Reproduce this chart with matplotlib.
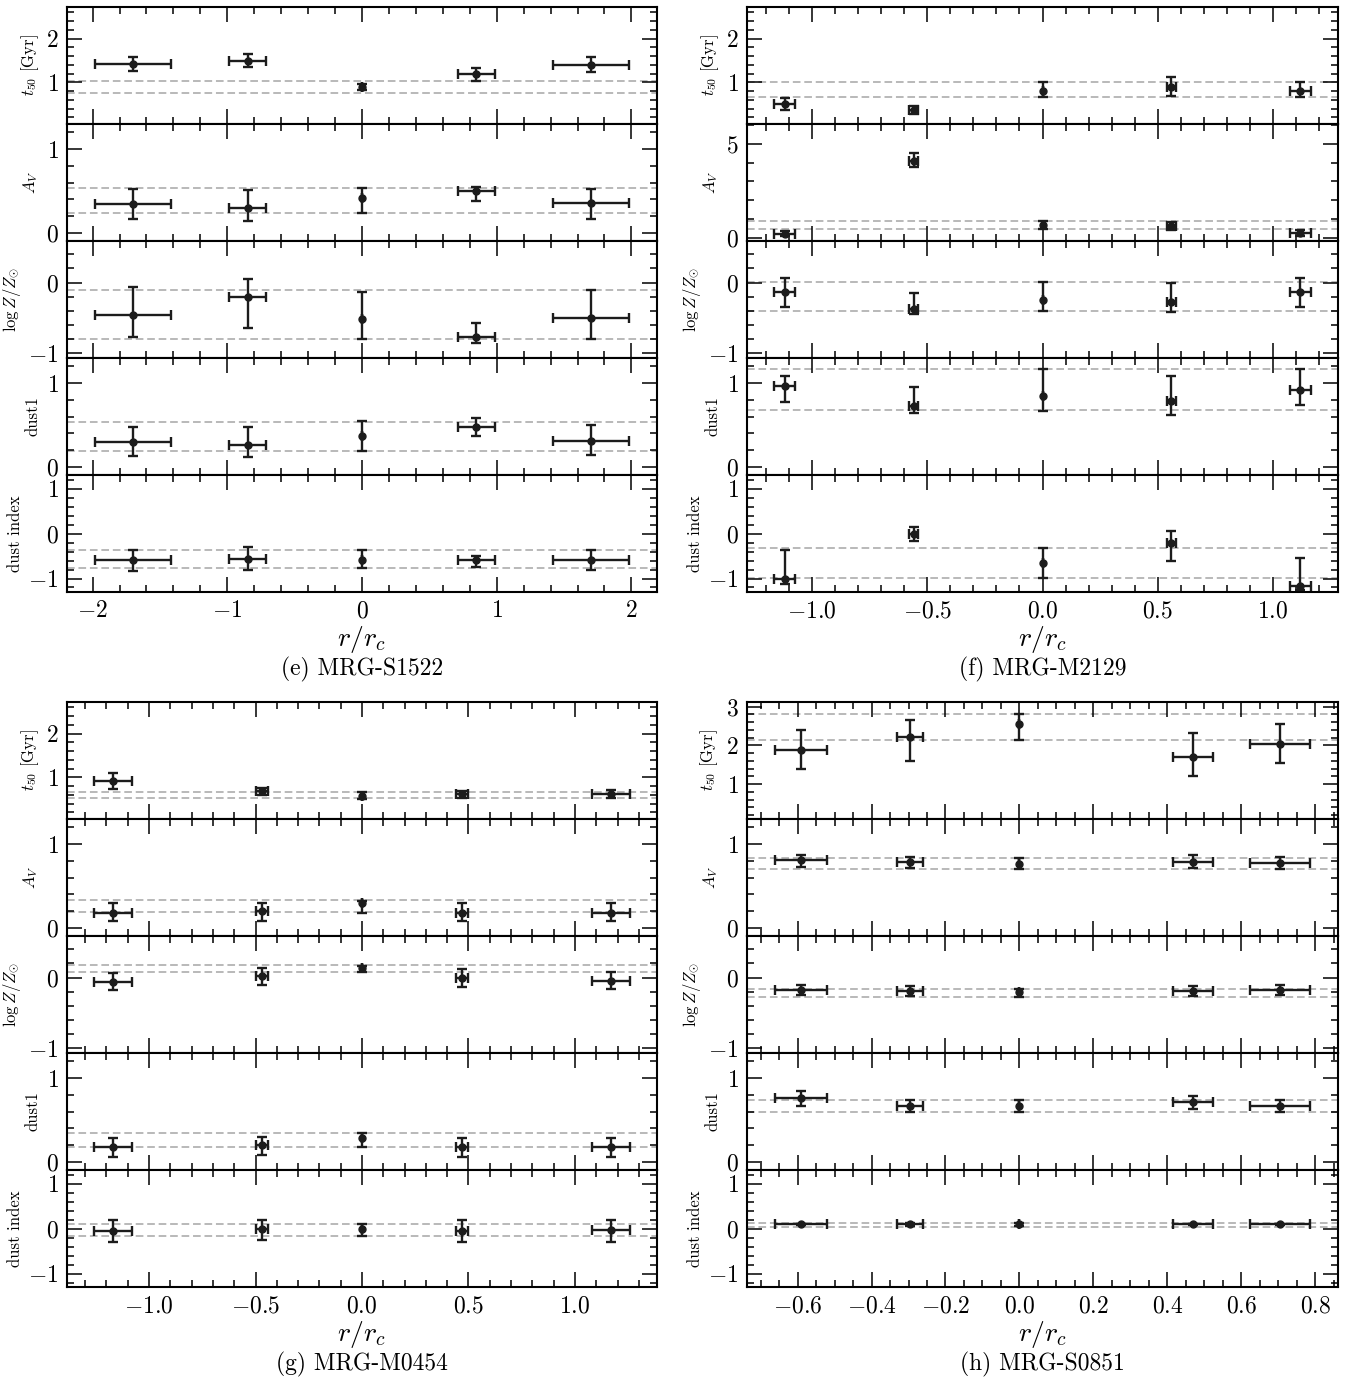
import numpy as np
import matplotlib.pyplot as plt
from matplotlib.ticker import MultipleLocator, AutoMinorLocator

plt.rcParams.update({
    'font.family': 'serif',
    'font.serif': ['cmr10'],
    'mathtext.fontset': 'cm',
    'axes.formatter.use_mathtext': True,
    'axes.linewidth': 1.5,
})

# each quantity: [median, 16th pct, 84th pct] per radial bin; *_int = integrated 16-84 band

# MRG-S1522
s1522_r = [-1.70, -0.85, 0.0, 0.85, 1.70]
s1522_rerr = [0.28, 0.14, 0.0, 0.14, 0.28]
s1522_t50 = [[1.43, 1.49, 0.89, 1.18, 1.40],
             [1.26, 1.34, 0.82, 1.04, 1.24],
             [1.59, 1.65, 0.96, 1.32, 1.57]]
s1522_t50_int = [0.75, 1.02]
s1522_av = [[0.34, 0.29, 0.42, 0.50, 0.35],
            [0.16, 0.14, 0.24, 0.38, 0.16],
            [0.52, 0.51, 0.54, 0.55, 0.52]]
s1522_av_int = [0.236, 0.536]
s1522_logz = [[-0.46, -0.20, -0.51, -0.77, -0.50],
              [-0.77, -0.64, -0.80, -0.86, -0.80],
              [-0.06, 0.05, -0.13, -0.58, -0.10]]
s1522_logz_int = [-0.80, -0.10]
s1522_dust1 = [[0.29, 0.26, 0.37, 0.48, 0.31],
               [0.13, 0.115, 0.19, 0.37, 0.14],
               [0.48, 0.47, 0.55, 0.58, 0.50]]
s1522_dust1_int = [0.19, 0.54]
s1522_dindex = [[-0.59, -0.57, -0.58, -0.58, -0.585],
                [-0.84, -0.81, -0.76, -0.74, -0.81],
                [-0.37, -0.31, -0.37, -0.49, -0.36]]
s1522_dindex_int = [-0.76, -0.36]

# MRG-M2129
m2129_r = [-1.12, -0.56, 0.0, 0.56, 1.12]
m2129_rerr = [0.045, 0.02, 0.0, 0.02, 0.045]
m2129_t50 = [[0.51, 0.36, 0.81, 0.89, 0.80],
             [0.38, 0.27, 0.66, 0.68, 0.66],
             [0.64, 0.46, 1.00, 1.13, 1.00]]
m2129_t50_int = [0.66, 1.0]
m2129_av = [[0.21, 4.09, 0.70, 0.63, 0.25],
            [0.07, 3.79, 0.45, 0.39, 0.11],
            [0.34, 4.54, 0.89, 0.82, 0.39]]
m2129_av_int = [0.48, 0.89]
m2129_logz = [[-0.13, -0.37, -0.24, -0.28, -0.13],
              [-0.34, -0.44, -0.41, -0.42, -0.34],
              [0.06, -0.15, 0.01, -0.01, 0.06]]
m2129_logz_int = [-0.41, 0.01]
m2129_dust1 = [[0.96, 0.73, 0.85, 0.79, 0.92],
               [0.77, 0.64, 0.67, 0.62, 0.74],
               [1.09, 0.95, 1.17, 1.09, 1.17]]
m2129_dust1_int = [0.675, 1.17]
m2129_dindex = [[-1.02, -0.01, -0.65, -0.21, -1.17],
                [-1.12, -0.17, -0.99, -0.61, -1.26],
                [-0.36, 0.15, -0.32, 0.06, -0.54]]
m2129_dindex_int = [-0.985, -0.32]

# MRG-M0454
m0454_r = [-1.17, -0.47, 0.0, 0.47, 1.17]
m0454_rerr = [0.09, 0.03, 0.0, 0.03, 0.09]
m0454_t50 = [[0.92, 0.68, 0.585, 0.62, 0.61],
             [0.74, 0.59, 0.51, 0.53, 0.53],
             [1.10, 0.76, 0.66, 0.70, 0.72]]
m0454_t50_int = [0.53, 0.66]
m0454_av = [[0.18, 0.20, 0.29, 0.18, 0.18],
            [0.08, 0.08, 0.18, 0.08, 0.08],
            [0.29, 0.29, 0.32, 0.29, 0.29]]
m0454_av_int = [0.19, 0.33]
m0454_logz = [[-0.056, 0.02, 0.13, -0.01, -0.05],
              [-0.17, -0.11, 0.08, -0.14, -0.16],
              [0.07, 0.13, 0.16, 0.12, 0.08]]
m0454_logz_int = [0.075, 0.18]
m0454_dust1 = [[0.18, 0.20, 0.28, 0.18, 0.18],
               [0.06, 0.08, 0.18, 0.06, 0.06],
               [0.28, 0.30, 0.34, 0.28, 0.28]]
m0454_dust1_int = [0.18, 0.34]
m0454_dindex = [[-0.045, -0.02, -0.02, -0.045, -0.04],
                [-0.30, -0.26, -0.16, -0.30, -0.30],
                [0.18, 0.20, 0.09, 0.18, 0.19]]
m0454_dindex_int = [-0.16, 0.10]

# MRG-S0851
s0851_r = [-0.59, -0.295, 0.0, 0.47, 0.705]
s0851_rerr = [0.07, 0.035, 0.0, 0.055, 0.082]
s0851_t50 = [[1.87, 2.21, 2.56, 1.70, 2.04],
             [1.39, 1.59, 2.14, 1.20, 1.55],
             [2.40, 2.66, 2.82, 2.32, 2.56]]
s0851_t50_int = [2.14, 2.80]
s0851_av = [[0.81, 0.78, 0.76, 0.79, 0.77],
            [0.73, 0.71, 0.70, 0.71, 0.70],
            [0.87, 0.84, 0.83, 0.87, 0.84]]
s0851_av_int = [0.70, 0.83]
s0851_logz = [[-0.17, -0.19, -0.21, -0.19, -0.17],
              [-0.25, -0.265, -0.28, -0.265, -0.25],
              [-0.10, -0.12, -0.16, -0.12, -0.10]]
s0851_logz_int = [-0.27, -0.16]
s0851_dust1 = [[0.756, 0.67, 0.67, 0.71, 0.67],
               [0.67, 0.60, 0.60, 0.63, 0.60],
               [0.84, 0.74, 0.74, 0.79, 0.74]]
s0851_dust1_int = [0.60, 0.74]
s0851_dindex = [[0.09, 0.09, 0.09, 0.09, 0.09],
                [0.07, 0.06, 0.06, 0.07, 0.07],
                [0.11, 0.12, 0.12, 0.11, 0.11]]
s0851_dindex_int = [0.04, 0.13]

ylabels = [r'$t_{50}$ [Gyr]', r'$A_V$', r'$\log Z/Z_{\odot}$', 'dust1', 'dust index']

W, H = 1363, 1380
fig = plt.figure(figsize=(W / 100, H / 100), dpi=100)


def panel(left, top, right, bottom, r, rerr, rows, ylims, ymajors, xlim, xmajor, caption):
    # stack of rows sharing the radial axis, no vertical gaps
    n = len(rows)
    h = (bottom - top) / n
    for i, (q, band) in enumerate(rows):
        ax = fig.add_axes([left / W, 1 - (top + (i + 1) * h) / H,
                           (right - left) / W, h / H])
        med, lo, hi = (np.array(a) for a in q)
        for b in band:
            ax.axhline(b, color='#a5a5a5', lw=1.1, ls=(0, (5, 2.5)), zorder=1)
        ax.errorbar(r, med, xerr=rerr, yerr=[med - lo, hi - med], fmt='o',
                    color='#1c1c1c', ms=5, elinewidth=1.7, capsize=3.4,
                    capthick=1.7, zorder=3)
        ax.set_xlim(*xlim)
        ax.set_ylim(*ylims[i])
        ax.xaxis.set_major_locator(MultipleLocator(xmajor))
        ax.xaxis.set_minor_locator(AutoMinorLocator())
        ax.yaxis.set_major_locator(MultipleLocator(ymajors[i]))
        ax.yaxis.set_minor_locator(AutoMinorLocator())
        ax.tick_params(which='both', direction='in', top=True, right=True,
                       labelsize=17, pad=6)
        ax.tick_params(which='major', length=11, width=1.1)
        ax.tick_params(which='minor', length=5, width=1.1)
        ax.set_ylabel(ylabels[i], fontsize=12, labelpad=4)
        if i < n - 1:
            ax.tick_params(labelbottom=False)
        else:
            ax.set_xlabel(r'$r/r_c$', fontsize=20, labelpad=1)
    fig.text((left + right) / 2 / W, 1 - (bottom + 77) / H, caption,
             ha='center', va='center', fontsize=17)


base_ylims = [(0.05, 2.72), (-0.1, 1.3), (-1.07, 0.59), (-0.1, 1.3), (-1.3, 1.3)]
base_major = [1, 1, 1, 1, 1]

panel(67, 7, 657, 592, s1522_r, s1522_rerr,
      [(s1522_t50, s1522_t50_int), (s1522_av, s1522_av_int),
       (s1522_logz, s1522_logz_int), (s1522_dust1, s1522_dust1_int),
       (s1522_dindex, s1522_dindex_int)],
      base_ylims, base_major, (-2.19, 2.19), 1, '(e) MRG-S1522')

panel(747, 7, 1338, 592, m2129_r, m2129_rerr,
      [(m2129_t50, m2129_t50_int), (m2129_av, m2129_av_int),
       (m2129_logz, m2129_logz_int), (m2129_dust1, m2129_dust1_int),
       (m2129_dindex, m2129_dindex_int)],
      [(0.05, 2.72), (-0.18, 6.07), (-1.07, 0.59), (-0.1, 1.3), (-1.3, 1.3)],
      [1, 5, 1, 1, 1], (-1.283, 1.283), 0.5, '(f) MRG-M2129')

panel(67, 702, 657, 1287, m0454_r, m0454_rerr,
      [(m0454_t50, m0454_t50_int), (m0454_av, m0454_av_int),
       (m0454_logz, m0454_logz_int), (m0454_dust1, m0454_dust1_int),
       (m0454_dindex, m0454_dindex_int)],
      base_ylims, base_major, (-1.385, 1.385), 0.5, '(g) MRG-M0454')

panel(747, 702, 1338, 1287, s0851_r, s0851_rerr,
      [(s0851_t50, s0851_t50_int), (s0851_av, s0851_av_int),
       (s0851_logz, s0851_logz_int), (s0851_dust1, s0851_dust1_int),
       (s0851_dindex, s0851_dindex_int)],
      [(0.1, 3.12), (-0.1, 1.3), (-1.07, 0.59), (-0.1, 1.3), (-1.3, 1.3)],
      base_major, (-0.737, 0.862), 0.2, '(h) MRG-S0851')

fig.savefig('out.png', dpi=100)
